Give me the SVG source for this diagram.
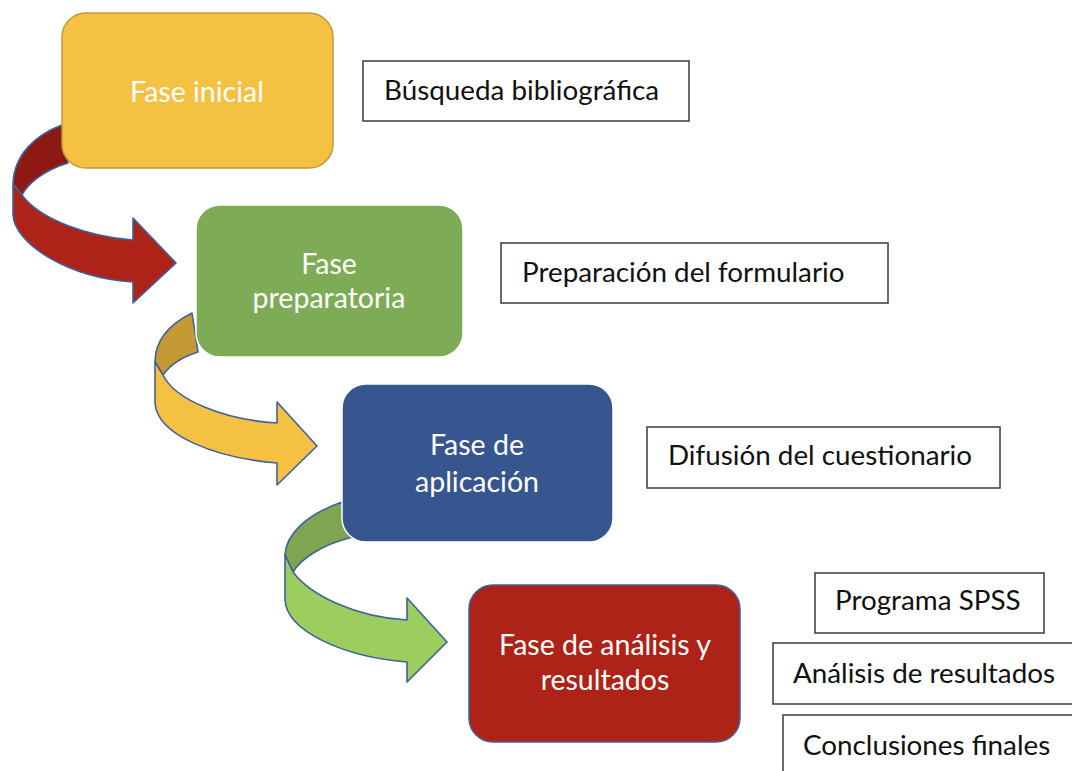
<svg xmlns="http://www.w3.org/2000/svg" width="1072" height="771" viewBox="0 0 1072 771">
<style>
.arr{stroke:#41609c;stroke-width:1.6;stroke-linejoin:round}
.ph{font-family:Lato,"Open Sans",sans-serif;font-size:28.5px;fill:#ffffff;text-anchor:middle}
.lb{fill:#ffffff;stroke:#3a3a3a;stroke-width:1.5}
.lt{font-family:Lato,"Open Sans",sans-serif;font-size:27.8px;fill:#111111}
</style>
<rect width="1072" height="771" fill="#ffffff"/>
<g id="connectors">
<g id="arrow1">
<path class="arr" fill="#8c1a13" d="M62,125 C35,135 14,155 13,184 L22,195 C28,183 45,170 68,163 Z"/>
<path class="arr" fill="#ae2318" d="M13,184 L13,215 C15,245 70,278 133,282 L133,303 L176,263 L133,218 L133,240 C90,237 40,220 22,195 Z"/>
</g>
<g id="arrow2">
<path class="arr" fill="#c49a33" d="M192,313 C168,325 155,342 155,362 L163,375 C170,365 182,357 198,352 Z"/>
<path class="arr" fill="#f4c142" d="M155,362 L155,403 C157,435 215,458 277,463 L277,485 L317,446 L277,402 L277,423 C225,420 175,400 163,375 Z"/>
</g>
<g id="arrow3">
<path class="arr" fill="#7ea54f" d="M342,502 C305,515 286,535 285,555 L293,572 C300,560 320,545 353,537 Z"/>
<path class="arr" fill="#9ccd5f" d="M285,555 L285,600 C287,632 345,657 407,662 L407,682 L447,642 L407,598 L407,620 C355,617 310,595 293,572 Z"/>
</g>
</g>
<g id="fase-inicial">
<rect x="62" y="13" width="271" height="155" rx="24" fill="#f4c142" stroke="#bf9a3a" stroke-width="1.5"/>
<text class="ph" x="197" y="102">Fase inicial</text>
</g>
<g id="fase-preparatoria">
<rect x="196" y="205" width="267" height="152" rx="24" fill="#7eac56" stroke="#ffffff" stroke-width="1.5"/>
<text class="ph" x="329" y="274">Fase</text>
<text class="ph" x="329" y="308">preparatoria</text>
</g>
<g id="fase-aplicacion">
<rect x="342" y="384" width="271" height="158" rx="24" fill="#375690" stroke="#ffffff" stroke-width="1.5"/>
<text class="ph" x="477" y="455">Fase de</text>
<text class="ph" x="477" y="492">aplicación</text>
</g>
<g id="fase-analisis">
<rect x="469" y="585" width="271" height="157" rx="24" fill="#ae2318" stroke="#41609c" stroke-width="1.5"/>
<text class="ph" x="605" y="655">Fase de análisis y</text>
<text class="ph" x="605" y="690">resultados</text>
</g>
<g id="busqueda">
<rect class="lb" x="363" y="61" width="326" height="60"/>
<text class="lt" x="384" y="100">Búsqueda bibliográfica</text>
</g>
<g id="preparacion">
<rect class="lb" x="501" y="243" width="387" height="60"/>
<text class="lt" x="522" y="282">Preparación del formulario</text>
</g>
<g id="difusion">
<rect class="lb" x="647" y="427" width="353" height="61"/>
<text class="lt" x="668" y="465">Difusión del cuestionario</text>
</g>
<g id="spss">
<rect class="lb" x="815" y="573" width="229" height="60"/>
<text class="lt" x="835" y="610">Programa SPSS</text>
</g>
<g id="analisis">
<rect class="lb" x="773" y="643" width="302" height="61"/>
<text class="lt" x="793" y="683">Análisis de resultados</text>
</g>
<g id="conclusiones">
<rect class="lb" x="783" y="715" width="292" height="60"/>
<text class="lt" x="803" y="755">Conclusiones finales</text>
</g>
</svg>
